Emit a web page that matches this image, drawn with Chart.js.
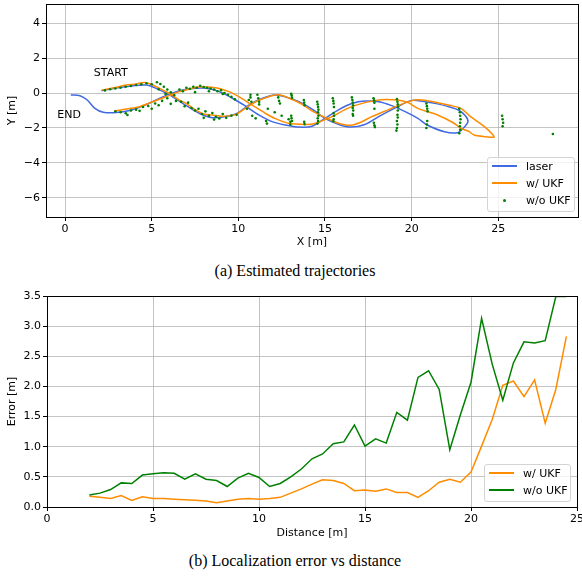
<!DOCTYPE html>
<html>
<head>
<meta charset="utf-8">
<script src="https://cdn.jsdelivr.net/npm/chart.js@4.4.1/dist/chart.umd.min.js"></script>
<style>
  body { margin: 0; background: #fff; width: 582px; height: 576px; position: relative; overflow: hidden; }
  canvas { position: absolute; left: 0; }
  #trajChart { top: 0; }
  #errChart { top: 285px; }
  .caption { position: absolute; left: 0; width: 590px; text-align: center; line-height: 18px;
             font-family: "Liberation Serif", "Times New Roman", serif; font-size: 16px; color: #000; }
  .legend { position: absolute; background: rgba(255,255,255,0.8); border: 1px solid #d4d4d4; border-radius: 3px;
            font-family: "DejaVu Sans", sans-serif; font-size: 11px; color: #000; box-sizing: border-box; }
  .legend .row { display: flex; align-items: center; height: 17px; }
  .legend .sample { width: 25px; margin-left: 4px; margin-right: 9px; position: relative; height: 9px; }
  .legend .sample i { position: absolute; left: 0; right: 0; top: 3px; height: 2px; }
  .legend .sample b { position: absolute; left: 11px; top: 3px; width: 3px; height: 3px; border-radius: 50%; }
</style>
</head>
<body>
<canvas id="trajChart" width="582" height="256"></canvas>
<div class="caption" style="top:262px">(a) Estimated trajectories</div>
<canvas id="errChart" width="582" height="260"></canvas>
<div class="caption" style="top:552px">(b) Localization error vs distance</div>
<div class="legend" id="trajLegend" style="left:487px; top:157px; width:88px; height:55px"></div>
<div class="legend" id="errLegend" style="left:484px; top:464px; width:87px; height:38px"></div>
<script>
// ---- (a) trajectories, [x, y] in metres ----
const laserPath = [
  [2.1,0.13],[2.96,0.29],[3.92,0.42],[4.68,0.46],[5.26,0.27],[6.02,-0.11],[6.79,-0.59],[7.74,-1.16],
  [8.5,-1.41],[9.27,-1.35],[9.94,-1.16],[10.6,-0.69],[11.4,-0.3],[12.1,-0.11],[12.7,-0.21],[13.5,-0.5],
  [14.3,-0.95],[15.0,-1.45],[15.8,-1.8],[16.5,-1.95],[17.3,-1.8],[18.1,-1.35],[19.2,-0.78],[20.0,-0.42],
  [20.8,-0.5],[21.5,-0.62],[22.2,-0.8],[22.7,-0.97],[23.1,-1.3],[23.25,-1.64],[23.0,-2.0],[22.65,-2.27],
  [21.9,-2.22],[20.9,-1.83],[20.36,-1.45],[19.6,-1.05],[18.85,-0.72],[18.1,-0.5],[17.3,-0.46],[16.55,-0.6],
  [15.8,-0.95],[15.0,-1.45],[14.25,-1.9],[13.5,-1.95],[12.7,-1.83],[11.95,-1.64],[11.2,-1.26],[10.4,-0.74],
  [9.66,-0.3],[8.89,0.08],[8.13,0.27],[7.55,0.27],[6.79,0.17],[6.02,-0.06],[5.26,-0.4],[4.49,-0.74],
  [3.73,-1.0],[2.96,-1.12],[2.2,-1.1],[1.72,-0.88],[1.28,-0.4],[0.86,-0.15],[0.33,-0.11]
];
const ukfPath = [
  [2.1,0.17],[2.8,0.3],[3.54,0.46],[4.1,0.52],[4.59,0.6],[5.06,0.46],[5.45,0.27],[6.02,-0.02],
  [6.6,-0.4],[6.98,-0.59],[7.5,-0.95],[8.0,-1.2],[8.5,-1.26],[9.08,-1.33],[9.85,-1.22],[10.4,-0.88],
  [11.0,-0.5],[11.75,-0.21],[12.33,-0.1],[12.9,-0.28],[13.6,-0.6],[14.3,-1.05],[15.0,-1.4],[15.7,-1.7],
  [16.4,-1.85],[17.0,-1.7],[17.7,-1.35],[18.5,-1.02],[19.2,-0.72],[19.97,-0.45],[20.36,-0.38],[21.0,-0.45],
  [21.5,-0.55],[22.2,-0.7],[22.84,-0.88],[23.4,-1.35],[24.2,-1.92],[24.7,-2.4],[24.75,-2.53],[24.3,-2.5],
  [23.6,-2.4],[23.3,-2.2],[22.84,-2.02],[22.45,-1.73],[21.5,-1.26],[20.36,-0.88],[19.8,-0.55],[19.2,-0.4],
  [18.25,-0.38],[17.3,-0.55],[16.3,-0.88],[15.4,-1.35],[14.4,-1.75],[13.86,-1.8],[12.9,-1.73],[12.1,-1.45],
  [11.56,-1.16],[10.8,-0.69],[10.03,-0.21],[9.46,0.08],[8.7,0.3],[7.74,0.36],[7.17,0.23],[6.6,0.08],
  [5.83,-0.21],[5.06,-0.5],[4.3,-0.78],[3.54,-0.91],[2.87,-1.03]
];
const rawFixes = [
  [2.3,0.15],[2.6,0.22],[2.9,0.26],[3.2,0.3],[3.5,0.36],[3.8,0.4],[4.1,0.46],[4.4,0.5],[4.7,0.56],
  [5.0,0.5],[5.3,0.62],[5.5,0.52],[5.7,0.36],[5.9,0.2],[6.1,0.04],[6.3,-0.12],[5.4,0.22],[5.8,-0.05],
  [2.9,-1.05],[3.2,-1.1],[3.5,-1.16],[3.6,-1.26],[3.8,-1.0],[4.1,-0.95],[4.3,-1.02],[4.5,-0.8],
  [4.8,-0.74],[5.0,-0.9],[5.2,-0.6],[5.4,-0.7],[5.6,-0.45],[5.9,-0.3],[6.1,-0.62],[6.4,-0.45],
  [6.6,0.2],[6.8,0.1],[7.0,0.3],[7.2,0.24],[7.4,0.36],[7.6,0.3],[7.8,0.42],[8.0,0.35],[8.2,0.3],
  [8.4,0.26],[8.6,0.2],[8.8,0.1],[9.0,0.16],[9.2,0.0],[9.4,-0.1],[9.6,-0.22],[9.8,-0.36],[7.5,0.05],
  [8.3,0.1],[9.1,-0.05],
  [6.7,-0.5],[6.9,-0.76],[7.1,-0.55],[7.3,-0.86],[7.5,-1.0],[7.7,-0.9],[7.9,-1.2],[8.1,-1.05],
  [8.3,-1.3],[8.5,-1.15],[8.7,-1.36],[8.9,-1.46],[9.1,-1.2],[9.3,-1.42],[9.6,-1.3],[9.9,-1.25],
  [8.0,-1.42],[8.6,-1.52],
  [10.5,-0.9],[10.6,-0.4],[10.7,-0.1],[10.7,-0.25],[10.75,-0.5],[10.8,-1.3],[11.0,-1.45],[11.1,-0.1],
  [11.15,-0.3],[11.2,-0.5],[11.2,-0.65],[11.6,-1.6],[11.65,-1.75],[11.7,-0.9],[12.1,-1.1],[12.3,-0.25],
  [12.35,-0.45],[12.4,-0.6],[12.9,-1.5],[13.0,-1.65],[13.0,-1.8],[12.5,-1.3],
  [13.05,-0.05],[13.08,-0.15],[13.1,-0.28],[13.05,-1.3],[13.07,-1.45],[13.1,-1.6],
  [13.78,-0.4],[13.8,-0.55],[13.82,-0.7],[13.8,-1.65],[13.82,-1.78],
  [14.55,-0.5],[14.58,-0.65],[14.6,-0.8],[14.62,-0.95],[14.6,-1.1],[14.62,-1.3],[14.58,-1.45],[14.6,-1.6],[14.57,-1.75],
  [15.45,-0.3],[15.48,-0.45],[15.5,-0.6],[15.52,-0.8],[15.5,-1.15],[15.52,-1.3],[15.5,-1.5],[15.48,-1.62],
  [16.55,-0.25],[16.58,-0.4],[16.6,-0.55],[16.62,-0.7],[16.6,-0.85],[16.63,-1.0],[16.6,-1.2],[16.62,-1.3],
  [17.8,-0.3],[17.83,-0.42],[17.85,-0.55],[17.85,-0.9],[17.82,-1.7],[17.85,-1.85],[17.88,-1.95],
  [19.15,-0.35],[19.18,-0.5],[19.2,-0.65],[19.22,-0.8],[19.2,-1.0],[19.18,-1.25],[19.2,-1.4],[19.15,-1.6],
  [19.18,-1.8],[19.15,-2.0],[19.12,-2.15],
  [20.85,-0.6],[20.88,-0.75],[20.9,-0.9],[20.92,-1.05],[20.9,-1.6],[20.88,-1.8],[20.85,-2.0],
  [22.75,-0.9],[22.78,-1.1],[22.8,-1.3],[22.82,-1.5],[22.8,-1.7],[22.78,-1.9],[22.8,-2.1],[22.75,-2.3],
  [25.22,-1.3],[25.25,-1.5],[25.28,-1.7],[25.25,-1.9],
  [28.15,-2.35]
];
const trajXTicks = [0, 5, 10, 15, 20, 25];
const trajYTicks = [-6, -4, -2, 0, 2, 4];
const noteText = ["START", "END"];
const noteX = [2.64, 0.23];
const noteY = [1.14, -1.26];

// ---- (b) error vs distance ----
const distance = [2,2.5,3,3.5,4,4.5,5,5.5,6,6.5,7,7.5,8,8.5,9,9.5,10,10.5,11,11.5,12,12.5,13,13.5,
  14,14.5,15,15.5,16,16.5,17,17.5,18,18.5,19,19.5,20,20.5,21,21.5,22,22.5,23,23.5,24,24.5];
const ukfErr = [0.18,0.16,0.14,0.19,0.11,0.17,0.14,0.14,0.13,0.12,0.11,0.10,0.07,0.10,0.13,0.14,0.13,0.14,
  0.16,0.23,0.30,0.38,0.45,0.44,0.39,0.27,0.28,0.26,0.30,0.24,0.24,0.16,0.27,0.41,0.46,0.41,
  0.58,1.01,1.45,2.02,2.09,1.83,2.11,1.39,1.95,2.83];
const rawErr = [0.20,0.23,0.29,0.40,0.39,0.53,0.55,0.57,0.56,0.46,0.55,0.46,0.44,0.34,0.48,0.56,0.49,0.34,
  0.39,0.50,0.63,0.80,0.88,1.05,1.08,1.36,1.01,1.13,1.06,1.57,1.44,2.15,2.26,1.95,0.95,1.53,
  2.07,3.13,2.37,1.77,2.39,2.74,2.72,2.76,3.49,3.49];
const errXTicks = [0, 5, 10, 15, 20, 25];
const errYTicks = [0, 0.5, 1, 1.5, 2, 2.5, 3, 3.5];

const BLUE = "#4169e1", ORANGE = "#ff8c00", GREEN = "#008000";
const font = { family: "'DejaVu Sans', sans-serif", size: 11 };
const gridColor = "rgba(176,176,176,0.75)";
const minus = (s) => String(s).replace("-", "\u2212");
const toXY = (p) => ({ x: p[0], y: p[1] });

const framePlugin = {
  id: "frame",
  afterDatasetsDraw(chart) {
    const { ctx, chartArea: a } = chart;
    ctx.save();
    ctx.strokeStyle = "#000";
    ctx.lineWidth = 1;
    ctx.strokeRect(Math.round(a.left) + 0.5, Math.round(a.top) + 0.5,
                   Math.round(a.right - a.left), Math.round(a.bottom - a.top));
    ctx.restore();
  },
};

const notesPlugin = {
  id: "notes",
  afterDatasetsDraw(chart) {
    const { ctx, scales } = chart;
    ctx.save();
    ctx.fillStyle = "#000";
    ctx.font = "11px 'DejaVu Sans'";
    ctx.textAlign = "center";
    ctx.textBaseline = "middle";
    noteText.forEach((t, i) => {
      ctx.fillText(t, scales.x.getPixelForValue(noteX[i]), scales.y.getPixelForValue(noteY[i]));
    });
    ctx.restore();
  },
};

function axis(opts) {
  return {
    type: "linear",
    min: opts.min,
    max: opts.max,
    afterBuildTicks: (s) => { s.ticks = opts.ticks.map((v) => ({ value: v })); },
    afterFit: (s) => {
      if (opts.width) s.width = opts.width;
      if (opts.height) s.height = opts.height;
      s.paddingLeft = 0; s.paddingRight = 0; s.paddingTop = 0; s.paddingBottom = 0;
    },
    border: { display: false },
    grid: { color: gridColor, lineWidth: 1, tickColor: "#000", tickLength: 4 },
    ticks: { color: "#000", font, padding: 2, maxRotation: 0, autoSkip: false, callback: opts.fmt },
    title: { display: true, text: opts.title, color: "#000", font, padding: opts.titlePad },
  };
}

function buildLegend(chart, el) {
  chart.data.datasets.forEach((ds) => {
    const row = document.createElement("div");
    row.className = "row";
    const sample = document.createElement("span");
    sample.className = "sample";
    const mark = document.createElement(ds.showLine === false ? "b" : "i");
    mark.style.background = ds.borderColor || ds.backgroundColor;
    sample.appendChild(mark);
    const label = document.createElement("span");
    label.textContent = ds.label;
    row.appendChild(sample);
    row.appendChild(label);
    el.appendChild(row);
  });
}

const trajChart = new Chart(document.getElementById("trajChart"), {
  type: "scatter",
  data: {
    datasets: [
      { label: "laser", data: laserPath.map(toXY), showLine: true, borderColor: BLUE,
        borderWidth: 1.5, pointRadius: 0, tension: 0.3, order: 3 },
      { label: "w/ UKF", data: ukfPath.map(toXY), showLine: true, borderColor: ORANGE,
        borderWidth: 1.5, pointRadius: 0, tension: 0.3, order: 2 },
      { label: "w/o UKF", data: rawFixes.map(toXY), showLine: false, backgroundColor: GREEN,
        borderWidth: 0, pointRadius: 1.3, order: 1 },
    ],
  },
  options: {
    responsive: false,
    animation: false,
    layout: { padding: { top: 4, right: 1, left: 0, bottom: 0 } },
    plugins: { legend: { display: false }, tooltip: { enabled: false } },
    scales: {
      x: axis({ min: -1.1, max: 29.6, ticks: trajXTicks, height: 39, fmt: minus,
                title: "X [m]", titlePad: { top: 0, bottom: 7 } }),
      y: axis({ min: -7.1, max: 5.1, ticks: trajYTicks, width: 46, fmt: minus,
                title: "Y [m]", titlePad: { top: 6, bottom: 0 } }),
    },
  },
  plugins: [framePlugin, notesPlugin],
});

const errChart = new Chart(document.getElementById("errChart"), {
  type: "line",
  data: {
    datasets: [
      { label: "w/ UKF", data: distance.map((d, i) => ({ x: d, y: ukfErr[i] })), borderColor: ORANGE,
        borderWidth: 1.5, pointRadius: 0, tension: 0, order: 2 },
      { label: "w/o UKF", data: distance.map((d, i) => ({ x: d, y: rawErr[i] })), borderColor: GREEN,
        borderWidth: 1.5, pointRadius: 0, tension: 0, order: 1 },
    ],
  },
  options: {
    responsive: false,
    animation: false,
    layout: { padding: { top: 11, right: 5, left: 0, bottom: 0 } },
    plugins: { legend: { display: false }, tooltip: { enabled: false } },
    scales: {
      x: axis({ min: 0, max: 25, ticks: errXTicks, height: 38, fmt: (v) => String(v),
                title: "Distance [m]", titlePad: { top: 0, bottom: 5 } }),
      y: axis({ min: 0, max: 3.5, ticks: errYTicks, width: 47, fmt: (v) => v.toFixed(1),
                title: "Error [m]", titlePad: { top: 6, bottom: 0 } }),
    },
  },
  plugins: [framePlugin],
});

buildLegend(trajChart, document.getElementById("trajLegend"));
buildLegend(errChart, document.getElementById("errLegend"));
</script>
</body>
</html>
